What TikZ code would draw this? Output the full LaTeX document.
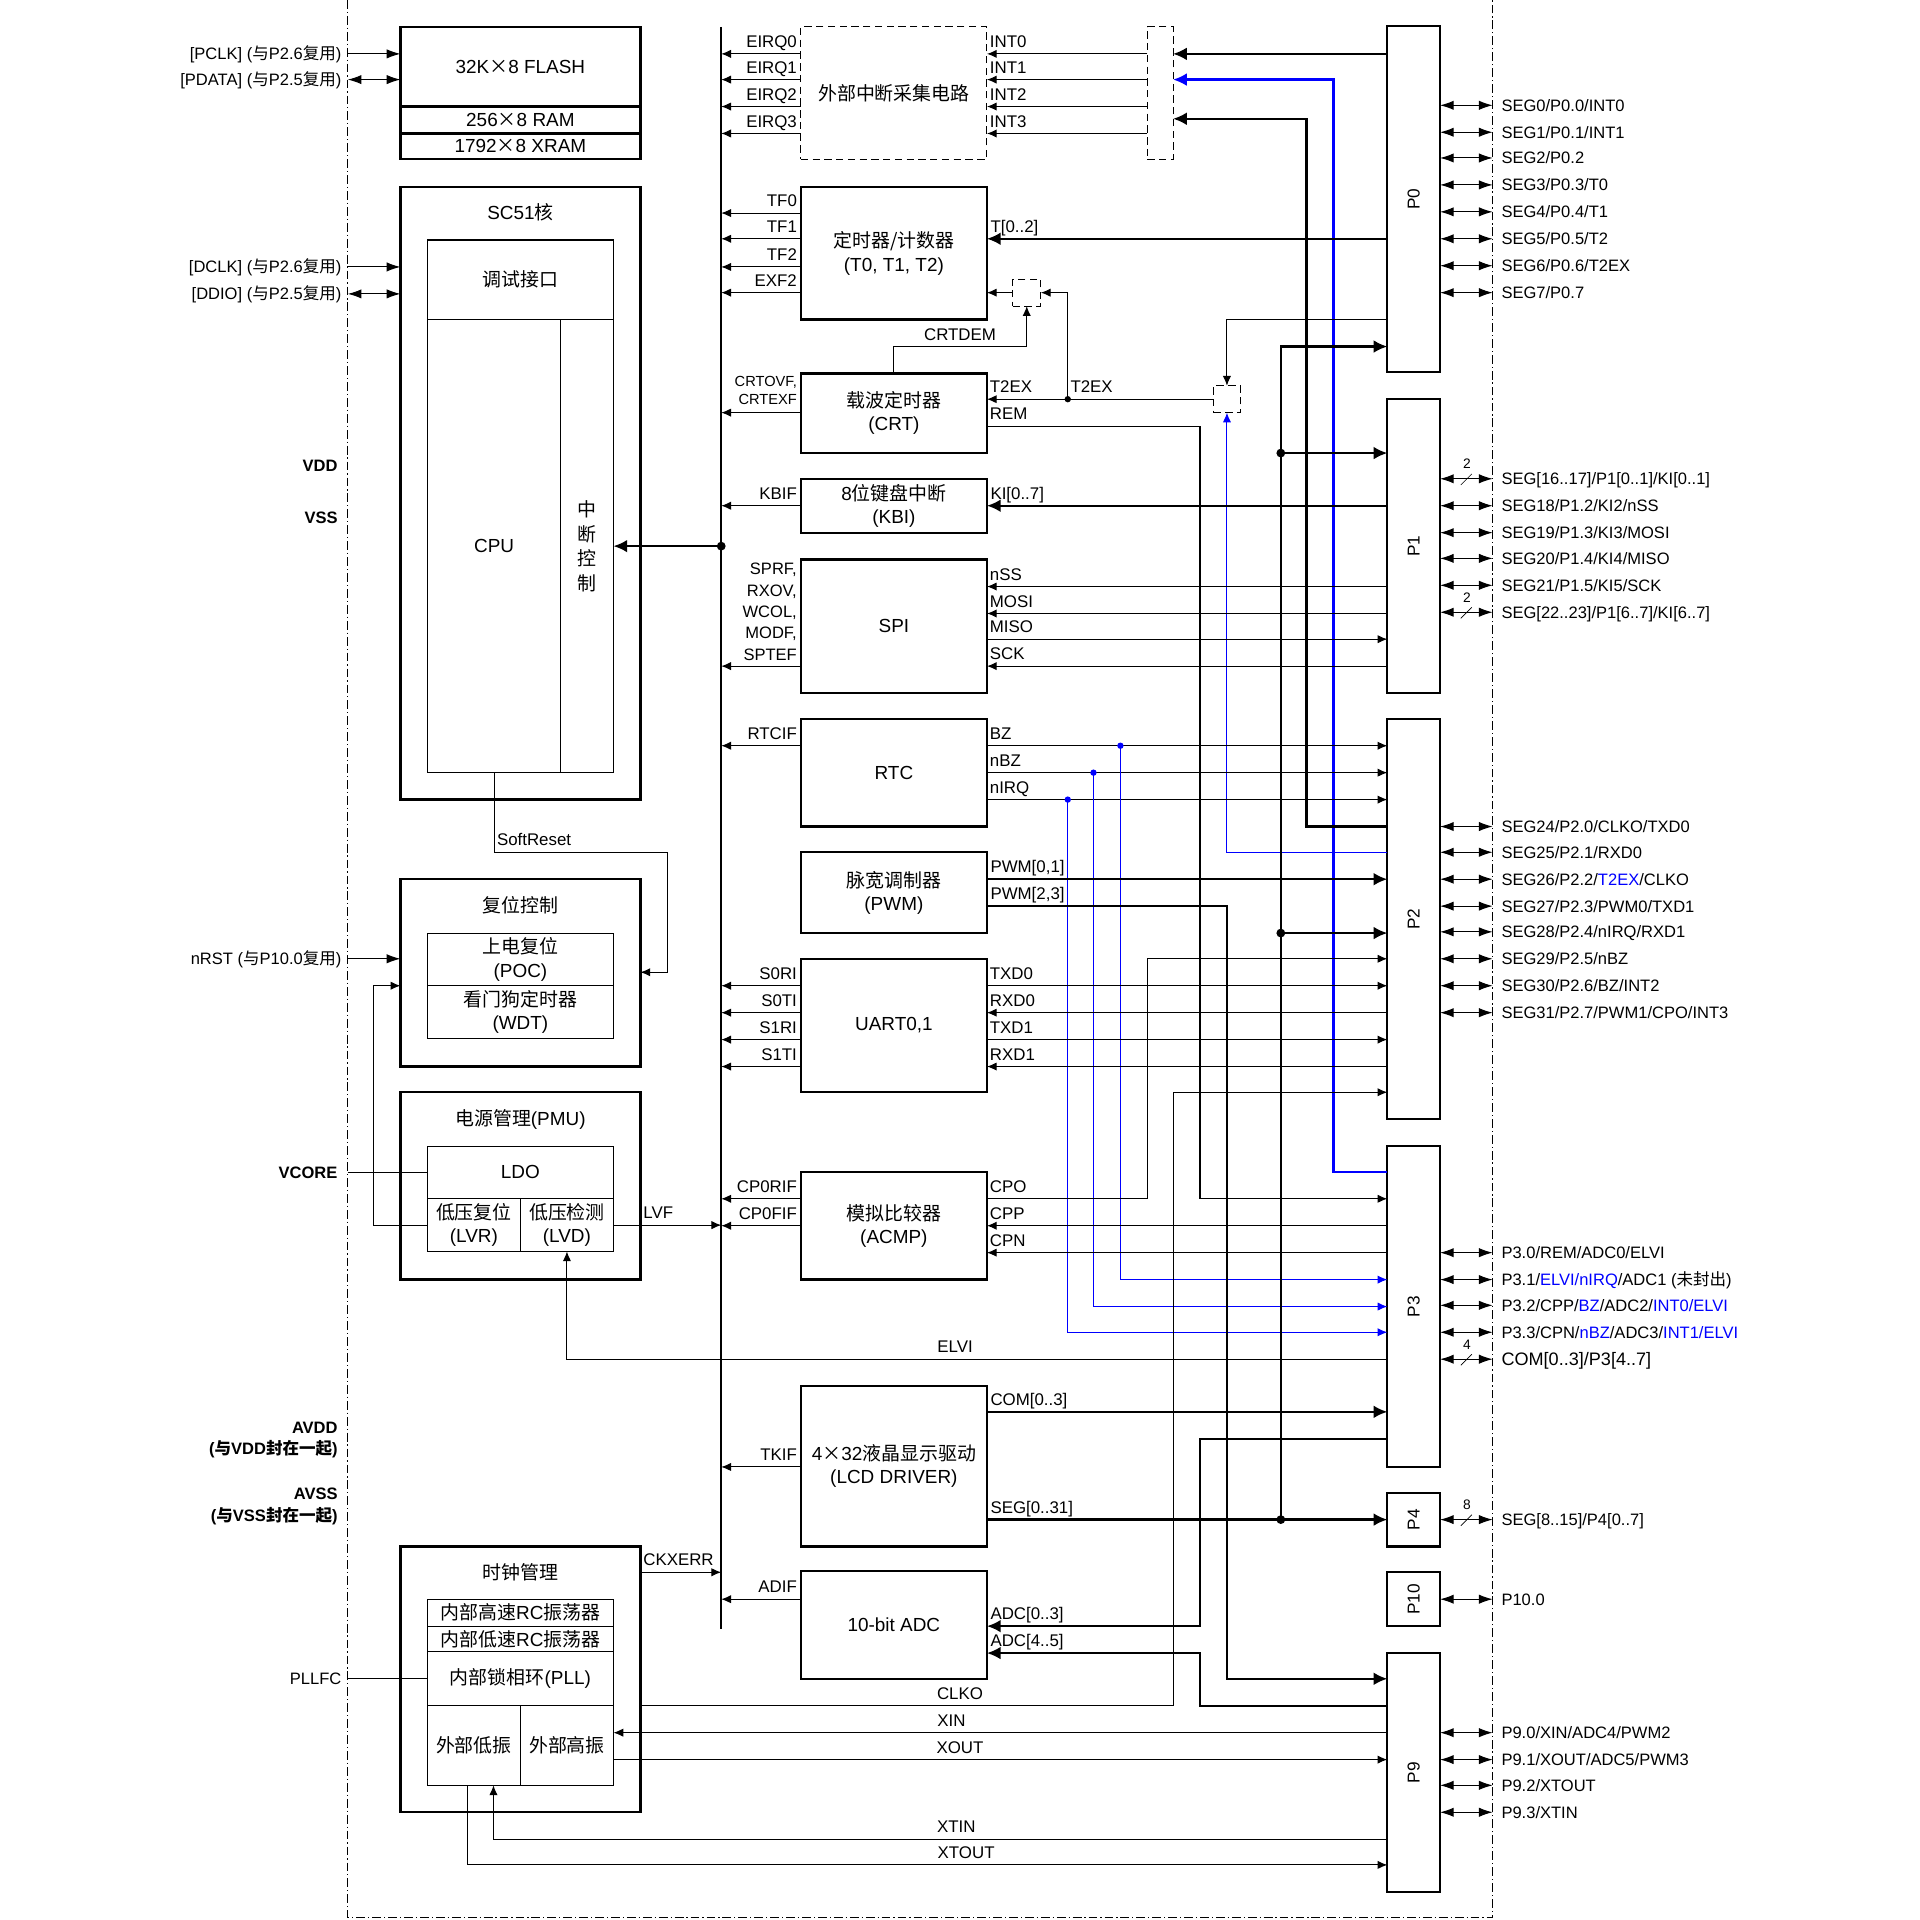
\documentclass[tikz,border=0pt]{standalone}
\usepackage{fontspec}
\setmainfont{Liberation Sans}
\newfontfamily\cjk{Noto Sans CJK SC}
\newcommand\zh[1]{{\cjk #1}}
\usetikzlibrary{arrows.meta}

\tikzset{
  blk/.style 2 args={draw, line width=1.3pt, minimum width=#1*0.25mm, minimum height=#2*0.25mm,
    inner sep=0pt, outer sep=0pt, anchor=north west, align=center, font=\fontsize{11}{13.5}\selectfont},
  sub/.style 2 args={blk={#1}{#2}, line width=0.6pt},
  dbox/.style 2 args={blk={#1}{#2}, line width=0.6pt, dash pattern=on 1.5mm off 0.9mm},
  txt/.style={inner sep=0pt, align=center, font=\fontsize{11}{13.5}\selectfont},
  sig/.style={line width=0.6pt},
  ar/.style={sig, -{Latex[length=2mm,width=1.7mm]}},
  ar2/.style={sig, -{Latex[length=2.8mm,width=1.9mm]}},
  tk/.style={line width=1.3pt, -{Latex[length=2.8mm,width=2.6mm]}},
  pinar/.style={sig, {Latex[length=2.8mm,width=1.9mm]}-{Latex[length=2.8mm,width=1.9mm]}},
  lab/.style={inner sep=0pt, font=\fontsize{9.8}{12}\selectfont},
  lw/.style={lab, anchor=base east, xshift=-0.7mm, yshift=1.3mm},
  le/.style={lab, anchor=base west, xshift=0.5mm, yshift=1.3mm},
  ab/.style={lab, anchor=base, yshift=1.3mm},
  pinl/.style={inner sep=0pt, font=\fontsize{9.6}{12}\selectfont, anchor=base west, xshift=1.7mm, yshift=-1.2mm},
  lftl/.style={inner sep=0pt, font=\fontsize{9.6}{12}\selectfont, anchor=base east, xshift=-1.2mm, yshift=-1.2mm},
  lftb/.style={inner sep=0pt, font=\fontsize{9.6}{12}\selectfont\bfseries, anchor=base east, xshift=-2mm, yshift=-1.2mm},
  bwn/.style={inner sep=0pt, font=\fontsize{8}{9}\selectfont},
  portl/.style={rotate=90, inner sep=0pt, font=\fontsize{10}{12}\selectfont},
  dot/.style={circle, fill, inner sep=0pt, minimum size=1.8mm},
  sdot/.style={circle, fill, inner sep=0pt, minimum size=1.3mm},
  bord/.style={line width=0.5pt, dash pattern=on 1.8mm off 0.6mm on 0.25mm off 0.6mm},
}

\begin{document}
\begin{tikzpicture}[x=0.25mm, y=-0.25mm]
    \useasboundingbox (0,0) rectangle (1568,1568);
    \coordinate (lb) at (284,0);
    \coordinate (rb) at (1219,0);
    \coordinate (bus) at (589,22);
    \coordinate (busb) at (589,1330);
    \draw[bord] (lb) -- (284,1566) -- (1219,1566) -- (rb);
    \draw[line width=1.3pt] (bus) -- (busb);

    % left column
    \node[blk={196}{65}] (flash) at (327,22) {32K\zh{×}8 FLASH};
    \node[blk={196}{22}] (ram) at (327,87) {256\zh{×}8 RAM};
    \node[blk={196}{21}] (xram) at (327,109) {1792\zh{×}8 XRAM};
    \draw[ar2] (lb |- 0,44) node[lftl] (tpclk) {[PCLK] (\zh{与}P2.6\zh{复用})} -- (flash.west |- 0,44);
    \draw[pinar] (lb |- 0,65) node[lftl] (tpdata) {[PDATA] (\zh{与}P2.5\zh{复用})} -- (flash.west |- 0,65);

    \node[blk={196}{500}] (sc) at (327,153) {};
    \node[txt] (tsc) at (425,173) {SC51\zh{核}};
    \node[sub={152}{65}] (dbg) at (349,196) {\zh{调试接口}};
    \node[sub={109}{370}] (cpu) at (349,261) {CPU};
    \node[sub={43}{370}, font=\cjk\fontsize{11}{14.2}\selectfont] (ictl) at (458,261) {中\\断\\控\\制};
    \draw[ar2] (lb |- 0,218) node[lftl] (tdclk) {[DCLK] (\zh{与}P2.6\zh{复用})} -- (sc.west |- 0,218);
    \draw[pinar] (lb |- 0,240) node[lftl] (tddio) {[DDIO] (\zh{与}P2.5\zh{复用})} -- (sc.west |- 0,240);
    \node[lftb] (tvdd) at (lb |- 0,380) {VDD};
    \node[lftb] (tvss) at (lb |- 0,423) {VSS};

    \node[blk={196}{153}] (rst) at (327,718) {};
    \node[txt] (trst) at (425,739) {\zh{复位控制}};
    \node[sub={152}{43}] (poc) at (349,762) {\zh{上电复位}\\(POC)};
    \node[sub={152}{43}] (wdt) at (349,805) {\zh{看门狗定时器}\\(WDT)};
    \draw[ar] (cpu.south) -- ++(0,65) node[le] (tsr) {SoftReset} -| (545,794) -- (rst.east |- 0,794);
    \draw[ar2] (lb |- 0,783) node[lftl] (tnrst) {nRST (\zh{与}P10.0\zh{复用})} -- (rst.west |- 0,783);

    \node[blk={196}{153}] (pmu) at (327,892) {};
    \node[txt] (tpmu) at (425,914) {\zh{电源管理}(PMU)};
    \node[sub={152}{43}] (ldo) at (349,936) {LDO};
    \node[sub={76}{43}] (lvr) at (349,979) {\zh{低压复位}\\(LVR)};
    \node[sub={76}{43}] (lvd) at (425,979) {\zh{低压检测}\\(LVD)};
    \draw[ar] (lvr.west) -| (305,805) -- (rst.west |- 0,805);
    \draw[sig] (lb |- ldo.west) node[lftb] (tvcore) {VCORE} -- (ldo.west);
    \draw[ar] (lvd.east) -- (pmu.east |- lvd.east) node[le] (tlvf) {LVF} -- (bus |- lvd.east);

    \node[lftb] (tavdd) at (lb |- 0,1166) {AVDD};
    \node[lftb] (tavdd2) at (lb |- 0,1183) {(\zh{与}VDD\zh{封在一起})};
    \node[lftb] (tavss) at (lb |- 0,1220) {AVSS};
    \node[lftb] (tavss2) at (lb |- 0,1238) {(\zh{与}VSS\zh{封在一起})};

    \node[blk={196}{217}] (clk) at (327,1263) {};
    \node[txt] (tclk) at (425,1284) {\zh{时钟管理}};
    \node[sub={152}{22}] (hrc) at (349,1306) {\zh{内部高速}RC\zh{振荡器}};
    \node[sub={152}{21}] (lrc) at (349,1328) {\zh{内部低速}RC\zh{振荡器}};
    \node[sub={152}{44}] (pll) at (349,1349) {\zh{内部锁相环}(PLL)};
    \node[sub={76}{65}] (xlo) at (349,1393) {\zh{外部低振}};
    \node[sub={76}{65}] (xhi) at (425,1393) {\zh{外部高振}};
    \draw[sig] (lb |- pll.west) node[lftl] (tpllfc) {PLLFC} -- (pll.west);
    \draw[ar] (clk.east |- 0,1284) node[le] (tckx) {CKXERR} -- (bus |- 0,1284);

    % CPU interrupt input
    \node[dot] (bd) at (bus |- 0,446) {};
    \draw[tk] (bd.center) -- (ictl.east |- bd);

    % peripherals
    \node[dbox={152}{108}] (eint) at (654,22) {\zh{外部中断采集电路}};
    \node[dbox={21}{108}] (mx1) at (937,22) {};
    \foreach \y/\n in {44/0,65/1,87/2,109/3} {
        \draw[ar] (eint.west |- 0,\y) node[lw] (eirq\n) {EIRQ\n} -- (bus |- 0,\y);
        \draw[ar] (mx1.west |- 0,\y) -- (eint.east |- 0,\y) node[le] (int\n) {INT\n};
    }

    \node[blk={152}{108}] (tmr) at (654,153) {\zh{定时器/计数器}\\(T0, T1, T2)};
    \foreach \y/\nm in {174/TF0,195/TF1,218/TF2,239/EXF2}
        \draw[ar] (tmr.west |- 0,\y) node[lw] (l\nm) {\nm} -- (bus |- 0,\y);
    \node[dbox={23}{22}] (mx2) at (827,228) {};
    \draw[ar] (mx2.west) -- (tmr.east |- mx2.west);

    \node[blk={152}{65}] (crt) at (654,305) {\zh{载波定时器}\\(CRT)};
    \draw[ar] (crt.north) -- ++(0,-22) -| (mx2.south);
    \node[ab] (tcrtdem) at (784,283) {CRTDEM};
    \draw[ar] (crt.west |- 0,337) -- (bus |- 0,337);
    \node[lab, align=right, anchor=south east, font=\fontsize{8.5}{10.7}\selectfont] (tcrtf) at (651,331) {CRTOVF,\\CRTEXF};
    \node[dbox={22}{22}] (mx3) at (991,315) {};
    \node[sdot] (j1) at (872,326) {};
    \draw[ar] (mx3.west) -- (crt.east |- mx3.west) node[le] (tt2a) {T2EX};
    \draw[ar] (j1.center) |- (mx2.east);
    \node[le] (tt2b) at (j1) {T2EX};

    \node[blk={152}{44}] (kbi) at (654,391) {8\zh{位键盘中断}\\(KBI)};
    \draw[ar] (kbi.west) node[lw] (tkbif) {KBIF} -- (bus |- kbi.west);

    \node[blk={152}{109}] (spi) at (654,457) {SPI};
    \draw[ar] (spi.west |- 0,544) -- (bus |- 0,544);
    \node[lab, align=right, anchor=south east, font=\fontsize{9.6}{12.4}\selectfont] (tspif) at (651,539.5) {SPRF,\\RXOV,\\WCOL,\\MODF,\\SPTEF};

    \node[blk={152}{88}] (rtc) at (654,587) {RTC};
    \draw[ar] (rtc.west |- 0,609) node[lw] (trtcif) {RTCIF} -- (bus |- 0,609);

    \node[blk={152}{66}] (pwm) at (654,696) {\zh{脉宽调制器}\\(PWM)};

    \node[blk={152}{109}] (uart) at (654,783) {UART0,1};
    \foreach \y/\nm in {805/S0RI,827/S0TI,849/S1RI,871/S1TI}
        \draw[ar] (uart.west |- 0,\y) node[lw] (t\nm) {\nm} -- (bus |- 0,\y);

    \node[blk={152}{88}] (acmp) at (654,957) {\zh{模拟比较器}\\(ACMP)};
    \draw[ar] (acmp.west |- 0,979) node[lw] (tcpr) {CP0RIF} -- (bus |- 0,979);
    \draw[ar] (acmp.west |- 0,1001) node[lw] (tcpf) {CP0FIF} -- (bus |- 0,1001);

    \node[blk={152}{131}] (lcd) at (654,1132) {4\zh{×}32\zh{液晶显示驱动}\\(LCD DRIVER)};
    \draw[ar] (lcd.west |- 0,1198) node[lw] (ttkif) {TKIF} -- (bus |- 0,1198);

    \node[blk={152}{88}] (adc) at (654,1283) {10-bit ADC};
    \draw[ar] (adc.west |- 0,1306) node[lw] (tadif) {ADIF} -- (bus |- 0,1306);

    % ports
    \node[blk={43}{283}] (p0) at (1133,21) {};
    \node[blk={43}{240}] (p1) at (1133,326) {};
    \node[blk={43}{327}] (p2) at (1133,587) {};
    \node[blk={43}{262}] (p3) at (1133,936) {};
    \node[blk={43}{44}] (p4) at (1133,1219) {};
    \node[blk={43}{44}] (p10) at (1133,1284) {};
    \node[blk={43}{195}] (p9) at (1133,1350) {};
    \node[portl] (tp0) at (p0.center) {P0};
    \node[portl] (tp1) at (p1.center) {P1};
    \node[portl] (tp2) at (p2.center) {P2};
    \node[portl] (tp3) at (p3.center) {P3};
    \node[portl] (tp4) at (p4.center) {P4};
    \node[portl] (tp10) at (p10.center) {P10};
    \node[portl] (tp9) at (p9.center) {P9};

    % port to peripheral signals
    \draw[tk] (p0.west |- 0,44) -- (mx1.east |- 0,44);
    \draw[tk, blue] (p3.west |- 0,957) -| (1089,65) -- (mx1.east |- 0,65);
    \draw[tk] (p2.west |- 0,675) -| (1067,97) -- (mx1.east |- 0,97);
    \draw[tk] (p0.west |- 0,195) -- (tmr.east |- 0,195) node[le] (ttt) {T[0..2]};
    \draw[ar] (p0.west |- 0,261) -| (mx3.north);
    \draw[ar, blue] (p2.west |- 0,696) -| (mx3.south);
    \draw[ar] (crt.east |- 0,348) node[le] (trem) {REM} -| (980,979) -- (p3.west |- 0,979);
    \draw[tk] (p1.west |- kbi.east) -- (kbi.east) node[le] (tki) {KI[0..7]};
    \draw[ar] (p1.west |- 0,479) -- (spi.east |- 0,479) node[le] (tnss) {nSS};
    \draw[ar] (p1.west |- 0,501) -- (spi.east |- 0,501) node[le] (tmosi) {MOSI};
    \draw[ar] (spi.east |- 0,522) node[le] (tmiso) {MISO} -- (p1.west |- 0,522);
    \draw[ar] (p1.west |- 0,544) -- (spi.east |- 0,544) node[le] (tsck) {SCK};
    \foreach \y/\nm in {609/BZ,631/nBZ,653/nIRQ}
        \draw[ar] (rtc.east |- 0,\y) node[le] (t\nm) {\nm} -- (p2.west |- 0,\y);
    \draw[ar, blue] (915,609) |- (p3.west |- 0,1045);
    \draw[ar, blue] (893,631) |- (p3.west |- 0,1067);
    \draw[ar, blue] (872,653) |- (p3.west |- 0,1088);
    \draw[tk] (pwm.east |- 0,718) node[le] (tpwma) {PWM[0,1]} -- (p2.west |- 0,718);
    \draw[tk] (pwm.east |- 0,740) node[le] (tpwmb) {PWM[2,3]} -| (1002,1371) -- (p9.west |- 0,1371);
    \draw[ar] (uart.east |- 0,805) node[le] (ttxd0) {TXD0} -- (p2.west |- 0,805);
    \draw[ar] (p2.west |- 0,827) -- (uart.east |- 0,827) node[le] (trxd0) {RXD0};
    \draw[ar] (uart.east |- 0,849) node[le] (ttxd1) {TXD1} -- (p2.west |- 0,849);
    \draw[ar] (p2.west |- 0,871) -- (uart.east |- 0,871) node[le] (trxd1) {RXD1};
    \draw[ar] (acmp.east |- 0,979) node[le] (tcpo) {CPO} -| (937,783) -- (p2.west |- 0,783);
    \draw[ar] (p3.west |- 0,1001) -- (acmp.east |- 0,1001) node[le] (tcpp) {CPP};
    \draw[ar] (p3.west |- 0,1023) -- (acmp.east |- 0,1023) node[le] (tcpn) {CPN};
    \draw[ar] (p3.west |- 0,1110) -| (lvd.south);
    \node[ab] (telvi) at (780,1110) {ELVI};
    \draw[tk] (lcd.east |- 0,1153) node[le] (tcom) {COM[0..3]} -- (p3.west |- 0,1153);
    \draw[tk] (lcd.east |- 0,1241) node[le] (tseg) {SEG[0..31]} -- (p4.west |- 0,1241);
    \node[dot] (d1) at (1046,370) {};
    \node[dot] (d2) at (1046,762) {};
    \node[dot] (d3) at (1046,1241) {};
    \draw[tk] (d3.center) |- (p0.west |- 0,283);
    \draw[tk] (d1.center) -- (p1.west |- d1);
    \draw[tk] (d2.center) -- (p2.west |- d2);
    \draw[tk] (p3.west |- 0,1175) -| (980,1328) -- (adc.east |- 0,1328) node[le] (tadca) {ADC[0..3]};
    \draw[tk] (p9.west |- 0,1393) -| (980,1350) -- (adc.east |- 0,1350) node[le] (tadcb) {ADC[4..5]};
    \draw[ar] (clk.east |- 0,1393) -| (958,892) -- (p2.west |- 0,892);
    \node[ab] (tclko) at (784,1393) {CLKO};
    \draw[ar] (p9.west |- 0,1415) -- (xhi.east |- 0,1415);
    \node[ab] (txin) at (777,1415) {XIN};
    \draw[ar] (xhi.east |- 0,1437) -- (p9.west |- 0,1437);
    \node[ab] (txout) at (784,1437) {XOUT};
    \draw[ar] (p9.west |- 0,1502) -| ([xshift=4mm]xlo.south);
    \node[ab] (txtin) at (781,1502) {XTIN};
    \draw[ar] ([xshift=-1.25mm]xlo.south) |- (p9.west |- 0,1523);
    \node[ab] (txtout) at (789,1523) {XTOUT};
    \node[sdot, blue] (dbz) at (915,609) {};
    \node[sdot, blue] (dnbz) at (893,631) {};
    \node[sdot, blue] (dnirq) at (872,653) {};

    % pins
    \draw[pinar] (p0.east |- 0,86) -- (rb |- 0,86) node[pinl] (s00) {SEG0/P0.0/INT0};
    \draw[pinar] (p0.east |- 0,108) -- (rb |- 0,108) node[pinl] (s01) {SEG1/P0.1/INT1};
    \draw[pinar] (p0.east |- 0,129) -- (rb |- 0,129) node[pinl] (s02) {SEG2/P0.2};
    \draw[pinar] (p0.east |- 0,151) -- (rb |- 0,151) node[pinl] (s03) {SEG3/P0.3/T0};
    \draw[pinar] (p0.east |- 0,173) -- (rb |- 0,173) node[pinl] (s04) {SEG4/P0.4/T1};
    \draw[pinar] (p0.east |- 0,195) -- (rb |- 0,195) node[pinl] (s05) {SEG5/P0.5/T2};
    \draw[pinar] (p0.east |- 0,217) -- (rb |- 0,217) node[pinl] (s06) {SEG6/P0.6/T2EX};
    \draw[pinar] (p0.east |- 0,239) -- (rb |- 0,239) node[pinl] (s07) {SEG7/P0.7};
    \draw[pinar] (p1.east |- 0,391) -- (rb |- 0,391) node[pinl] (s10) {SEG[16..17]/P1[0..1]/KI[0..1]};
    \draw[pinar] (p1.east |- 0,413) -- (rb |- 0,413) node[pinl] (s12) {SEG18/P1.2/KI2/nSS};
    \draw[pinar] (p1.east |- 0,435) -- (rb |- 0,435) node[pinl] (s13) {SEG19/P1.3/KI3/MOSI};
    \draw[pinar] (p1.east |- 0,456) -- (rb |- 0,456) node[pinl] (s14) {SEG20/P1.4/KI4/MISO};
    \draw[pinar] (p1.east |- 0,478) -- (rb |- 0,478) node[pinl] (s15) {SEG21/P1.5/KI5/SCK};
    \draw[pinar] (p1.east |- 0,500) -- (rb |- 0,500) node[pinl] (s16) {SEG[22..23]/P1[6..7]/KI[6..7]};
    \draw[pinar] (p2.east |- 0,675) -- (rb |- 0,675) node[pinl] (s20) {SEG24/P2.0/CLKO/TXD0};
    \draw[pinar] (p2.east |- 0,696) -- (rb |- 0,696) node[pinl] (s21) {SEG25/P2.1/RXD0};
    \draw[pinar] (p2.east |- 0,718) -- (rb |- 0,718) node[pinl] (s22) {SEG26/P2.2/\textcolor{blue}{T2EX}/CLKO};
    \draw[pinar] (p2.east |- 0,740) -- (rb |- 0,740) node[pinl] (s23) {SEG27/P2.3/PWM0/TXD1};
    \draw[pinar] (p2.east |- 0,761) -- (rb |- 0,761) node[pinl] (s24) {SEG28/P2.4/nIRQ/RXD1};
    \draw[pinar] (p2.east |- 0,783) -- (rb |- 0,783) node[pinl] (s25) {SEG29/P2.5/nBZ};
    \draw[pinar] (p2.east |- 0,805) -- (rb |- 0,805) node[pinl] (s26) {SEG30/P2.6/BZ/INT2};
    \draw[pinar] (p2.east |- 0,827) -- (rb |- 0,827) node[pinl] (s27) {SEG31/P2.7/PWM1/CPO/INT3};
    \draw[pinar] (p3.east |- 0,1023) -- (rb |- 0,1023) node[pinl] (s30) {P3.0/REM/ADC0/ELVI};
    \draw[pinar] (p3.east |- 0,1045) -- (rb |- 0,1045) node[pinl] (s31) {P3.1/\textcolor{blue}{ELVI/nIRQ}/ADC1 (\zh{未封出})};
    \draw[pinar] (p3.east |- 0,1066) -- (rb |- 0,1066) node[pinl] (s32) {P3.2/CPP/\textcolor{blue}{BZ}/ADC2/\textcolor{blue}{INT0/ELVI}};
    \draw[pinar] (p3.east |- 0,1088) -- (rb |- 0,1088) node[pinl] (s33) {P3.3/CPN/\textcolor{blue}{nBZ}/ADC3/\textcolor{blue}{INT1/ELVI}};
    \draw[pinar] (p3.east |- 0,1110) -- (rb |- 0,1110) node[pinl, font=\fontsize{10.5}{12}\selectfont] (s34) {COM[0..3]/P3[4..7]};
    \draw[pinar] (p4.east |- 0,1241) -- (rb |- 0,1241) node[pinl] (s40) {SEG[8..15]/P4[0..7]};
    \draw[pinar] (p10.east |- 0,1306) -- (rb |- 0,1306) node[pinl] (s100) {P10.0};
    \draw[pinar] (p9.east |- 0,1415) -- (rb |- 0,1415) node[pinl] (s90) {P9.0/XIN/ADC4/PWM2};
    \draw[pinar] (p9.east |- 0,1437) -- (rb |- 0,1437) node[pinl] (s91) {P9.1/XOUT/ADC5/PWM3};
    \draw[pinar] (p9.east |- 0,1458) -- (rb |- 0,1458) node[pinl] (s92) {P9.2/XTOUT};
    \draw[pinar] (p9.east |- 0,1480) -- (rb |- 0,1480) node[pinl] (s93) {P9.3/XTIN};
    \foreach \y/\n in {391/2,500/2,1110/4,1241/8} {
        \draw[line width=0.4pt] (1193,\y+5) -- (1202,\y-4);
        \node[bwn] (bw\y) at (1198,\y-12) {\n};
    }
\end{tikzpicture}
\end{document}
